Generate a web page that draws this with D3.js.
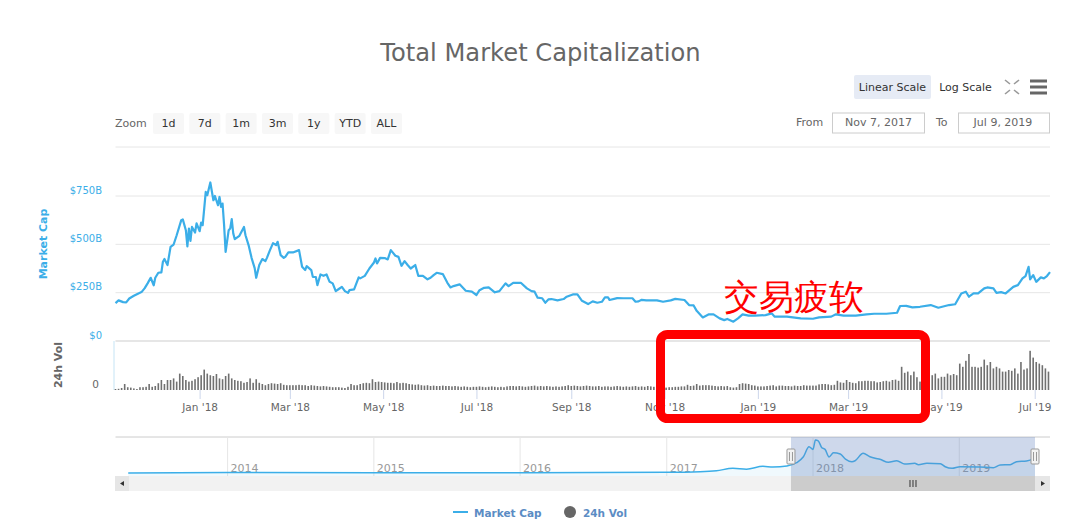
<!DOCTYPE html>
<html>
<head>
<meta charset="utf-8">
<script src="https://cdn.jsdelivr.net/npm/d3@7"></script>
<style>
  html, body { margin: 0; padding: 0; background: #fff; }
  svg { display: block; }
  text { font-family: "DejaVu Sans", sans-serif; }
  .domain { display: none; }
</style>
</head>
<body>
<svg id="plot" width="1080" height="530"></svg>
<script>
// Market cap ($B). Days are counted from the first date.
const startDate = new Date(2017, 10, 7);
const capDays = [0,2,5,7,9,12,15,17,19,21,23,25,26,28,30,31,32,34,36,38,40,43,44,46,47,48,49,50,52,53,55,56,57,58,59,60,62,64,65,67,68,69,70,71,72,74,75,76,77,78,81,84,85,87,89,91,92,94,96,98,99,101,103,105,106,108,110,111,113,116,120,122,124,125,128,129,131,132,134,136,138,140,142,144,146,148,150,152,153,156,159,160,163,166,169,170,171,173,176,178,180,183,185,187,189,191,193,196,198,201,204,206,208,210,214,217,219,221,225,229,233,236,238,241,244,248,251,255,257,260,265,269,272,274,276,279,281,283,285,289,293,295,299,302,305,309,312,315,318,320,322,323,328,332,338,340,342,344,347,354,358,363,366,372,375,378,380,384,388,391,395,398,400,404,407,410,414,418,425,429,431,439,448,456,460,468,471,476,484,491,496,504,511,513,517,521,526,533,538,545,549,553,556,558,561,564,568,570,574,576,579,582,587,590,593,595,597,598,600,602,605,607,609,611];
const capValues = [196,210,201,200,220,234,246,253,272,298,327,288,327,353,355,410,424,393,487,499,547,625,629,573,489,582,518,590,561,608,568,613,599,685,771,754,820,728,750,702,745,694,711,599,461,573,582,630,556,527,544,590,547,496,429,377,327,393,424,413,430,470,506,496,513,444,430,435,458,458,470,384,367,387,367,332,331,289,344,337,344,306,298,258,269,280,258,249,263,267,329,324,337,375,406,427,401,430,429,422,470,441,435,389,413,393,375,393,337,337,319,327,341,353,346,301,277,284,293,260,255,238,263,275,277,252,258,298,284,301,301,272,258,255,224,221,198,215,217,210,217,229,241,241,208,191,205,198,203,226,226,212,222,221,221,203,205,213,210,210,203,210,218,212,186,184,156,122,138,138,117,108,114,100,117,138,131,131,134,143,126,126,117,115,122,126,138,131,131,138,141,141,146,181,182,174,177,186,172,186,190,246,255,229,246,246,272,277,272,249,253,246,280,289,324,336,384,319,341,306,329,324,336,356];

// 24h volume ($B), one bar every two days
const volValues = [2.5,3,5,15,7,6,4,2.5,7,7,8,15,8,10,17,25,15,25,25,29,21,41,35,25,21,23,27,32,37,51,41,37,35,40,29,27,35,41,29,25,23,22,18,20,29,18,27,18,15,12,15,17,16,15,17,13,12,12,12,12,13,12,12,10,12,11,10,9,10,9,8,7,7,7,6,5,8,15,12,12,15,17,18,17,27,20,21,20,19,18,18,17,20,17,18,17,
  15,14,13,14,12,11,12,10,11,10,10,11,10,10,9,10,9,8,9,8,7,8,8,9,8,7,8,9,8,7,8,7,9,10,10,9,10,9,8,9,10,11,9,10,9,10,9,8,9,8,9,10,12,10,11,10,9,10,11,10,9,9,10,8,9,9,8,9,10,9,8,9,8,9,10,8,9,8,10,9,8,7,
  7,7,6,7,7,8,8,9,9,13,10,11,15,11,12,12,12,11,10,9,10,9,10,7,6,7,15,17,16,15,12,11,9,9,9,10,11,12,9,11,11,10,10,9,11,10,10,12,11,11,11,11,14,15,15,14,12,13,23,19,18,25,20,18,17,22,22,23,23,22,22,19,20,22,23,21,25,26,23,58,
  43,46,37,46,32,21,30,32,35,37,41,29,33,33,41,37,40,37,66,58,73,90,58,58,56,58,76,62,70,54,58,54,46,46,50,48,54,41,70,51,54,98,81,70,66,62,54,46];

// Overview strip under the chart
const navDates = ["2013-04-28","2014-01-01","2015-01-01","2016-01-01","2017-01-01","2017-03-25","2017-05-05","2017-06-15","2017-07-19","2017-08-29","2017-09-23","2017-10-28","2017-11-21","2017-12-08","2017-12-22","2018-01-01","2018-01-07","2018-01-14","2018-01-23","2018-01-31","2018-02-10","2018-02-21","2018-03-10","2018-03-23","2018-04-08","2018-04-16","2018-05-06","2018-05-23","2018-06-05","2018-06-17","2018-07-08","2018-07-29","2018-08-18","2018-09-12","2018-09-21","2018-10-12","2018-11-15","2018-11-27","2018-12-14","2019-01-03","2019-02-21","2019-03-27","2019-04-13","2019-05-08","2019-05-24","2019-06-18","2019-07-09"];
const navValues = [2,12,5,7,17,32,57,115,92,165,149,175,255,404,652,587,820,800,627,587,397,503,471,347,280,305,489,404,364,340,265,305,223,240,206,240,230,156,116,156,149,131,198,206,280,298,364];
const navYears = [2014,2015,2016,2017,2018,2019];

const capTicks = [0,250,500,750];
const monthTicks = [[2018,0],[2018,2],[2018,4],[2018,6],[2018,8],[2018,10],[2019,0],[2019,2],[2019,4],[2019,6]];
const zoomButtons = ["1d","7d","1m","3m","1y","YTD","ALL"];

const blue = "#3baee8", grid = "#e6e6e6", gray = "#666";
const svg = d3.select("#plot");
const left = 115.5, right = 1050;

const x = d3.scaleTime()
  .domain([startDate, d3.timeDay.offset(startDate, 611)])
  .range([left, right]);
const yCap = d3.scaleLinear().domain([0, 750]).range([341, 196]);
const yVol = d3.scaleLinear().domain([0, 122.5]).range([390, 341]);
const navX = d3.scaleTime()
  .domain([new Date(2014, 0, 1), new Date(2019, 6, 9)])
  .range([227.6, 1035]);
const navY = d3.scaleLinear().domain([0, 820]).range([473, 440]);

const dayToDate = d => d3.timeDay.offset(startDate, d);

svg.append("text").attr("x", 540.5).attr("y", 61).attr("text-anchor", "middle")
  .attr("font-size", 24.2).attr("fill", gray).text("Total Market Capitalization");

// Range selector
svg.append("text").attr("x", 115).attr("y", 127).attr("font-size", 11).attr("fill", gray).text("Zoom");
const btnX = d3.scalePoint().domain(zoomButtons).range([153, 371]);
const btn = svg.selectAll(".btn").data(zoomButtons).enter().append("g")
  .attr("transform", d => `translate(${btnX(d)}, 113)`);
btn.append("rect").attr("width", 31).attr("height", 21).attr("rx", 2).attr("fill", "#f7f7f7");
btn.append("text").attr("x", 15.5).attr("y", 14).attr("text-anchor", "middle")
  .attr("font-size", 11).attr("fill", "#333").text(d => d);

// Scale switch and menu icons
svg.append("rect").attr("x", 854).attr("y", 75).attr("width", 77).attr("height", 24).attr("rx", 2).attr("fill", "#e6ebf5");
svg.append("text").attr("x", 892.5).attr("y", 91).attr("text-anchor", "middle").attr("font-size", 11).attr("fill", "#333").text("Linear Scale");
svg.append("text").attr("x", 965.5).attr("y", 91).attr("text-anchor", "middle").attr("font-size", 11).attr("fill", "#333").text("Log Scale");
[[1005,80,1,1],[1019,80,-1,1],[1005,94,1,-1],[1019,94,-1,-1]].forEach(c => {
  svg.append("path")
    .attr("d", `M${c[0]},${c[1]}l${c[2]*5},${c[3]*4}`)
    .attr("stroke", "#999").attr("stroke-width", 1.6).attr("fill", "none");
});
[81, 87, 93].forEach(y => {
  svg.append("line").attr("x1", 1030).attr("x2", 1047).attr("y1", y).attr("y2", y)
    .attr("stroke", gray).attr("stroke-width", 3);
});

// From / To boxes
svg.append("text").attr("x", 796).attr("y", 126).attr("font-size", 11).attr("fill", gray).text("From");
svg.append("rect").attr("x", 832.5).attr("y", 113).attr("width", 92).attr("height", 20).attr("fill", "none").attr("stroke", "#ccc");
svg.append("text").attr("x", 878.5).attr("y", 126).attr("text-anchor", "middle").attr("font-size", 11).attr("fill", gray).text("Nov 7, 2017");
svg.append("text").attr("x", 936).attr("y", 126).attr("font-size", 11).attr("fill", gray).text("To");
svg.append("rect").attr("x", 958.5).attr("y", 113).attr("width", 91).attr("height", 20).attr("fill", "none").attr("stroke", "#ccc");
svg.append("text").attr("x", 1003).attr("y", 126).attr("text-anchor", "middle").attr("font-size", 11).attr("fill", gray).text("Jul 9, 2019");

// Grid lines
svg.append("line").attr("x1", left).attr("x2", right).attr("y1", 147).attr("y2", 147).attr("stroke", grid);
svg.selectAll(".grid").data(capTicks.slice(1)).enter().append("line")
  .attr("x1", left).attr("x2", right)
  .attr("y1", d => yCap(d)).attr("y2", d => yCap(d))
  .attr("stroke", grid);
svg.append("line").attr("x1", left).attr("x2", right).attr("y1", 341).attr("y2", 341).attr("stroke", grid).attr("stroke-width", 2);
svg.append("line").attr("x1", 114).attr("x2", 114).attr("y1", 341).attr("y2", 390).attr("stroke", "#c5e4f5");

// Y axes
const capAxis = svg.append("g").attr("transform", "translate(102, -6)")
  .call(d3.axisLeft(yCap).tickValues(capTicks).tickSize(0).tickPadding(0).tickFormat(d => `$${d}${d ? "B" : ""}`));
capAxis.selectAll("text").attr("font-size", 10).attr("font-family", '"DejaVu Sans", sans-serif').attr("fill", blue);
const volAxis = svg.append("g").attr("transform", "translate(99, -6)")
  .call(d3.axisLeft(yVol).tickValues([0]).tickSize(0).tickPadding(0));
volAxis.selectAll("text").attr("font-size", 10.5).attr("font-family", '"DejaVu Sans", sans-serif').attr("fill", gray);

svg.append("text").attr("transform", "translate(47, 244) rotate(-90)").attr("text-anchor", "middle")
  .attr("font-size", 11).attr("font-weight", "bold").attr("fill", blue).text("Market Cap");
svg.append("text").attr("transform", "translate(62, 365) rotate(-90)").attr("text-anchor", "middle")
  .attr("font-size", 11).attr("font-weight", "bold").attr("fill", gray).text("24h Vol");

// Volume bars
svg.selectAll(".bar").data(volValues).enter().append("rect")
  .attr("class", "bar")
  .attr("x", (d, i) => x(dayToDate(i * 2)) - 0.8)
  .attr("width", 1.6)
  .attr("y", d => yVol(d))
  .attr("height", d => yVol(0) - yVol(d))
  .attr("fill", "#707070");

// Date axis
const dateAxis = svg.append("g").attr("transform", "translate(0, 390)")
  .call(d3.axisBottom(x)
    .tickValues(monthTicks.map(m => new Date(m[0], m[1], 1)))
    .tickSize(9).tickPadding(5)
    .tickFormat(d3.timeFormat("%b '%y")));
dateAxis.selectAll("line").attr("stroke", "#ccd6eb");
dateAxis.selectAll("text").attr("font-size", 10.5).attr("font-family", '"DejaVu Sans", sans-serif').attr("fill", gray);

// Market cap line
const capLine = d3.line().x((d, i) => x(dayToDate(capDays[i]))).y(d => yCap(d));
svg.append("path").attr("d", capLine(capValues)).attr("fill", "none")
  .attr("stroke", blue).attr("stroke-width", 2.2).attr("stroke-linejoin", "round");

// Overview strip
svg.append("line").attr("x1", left).attr("x2", right).attr("y1", 437).attr("y2", 437).attr("stroke", "#ccc");
navYears.forEach(y => {
  const px = navX(new Date(y, 0, 1));
  svg.append("line").attr("x1", px).attr("x2", px).attr("y1", 437).attr("y2", 476).attr("stroke", grid);
  svg.append("text").attr("x", px + 3).attr("y", 472).attr("font-size", 11).attr("fill", "#999").text(y);
});
const navParsed = navDates.map(d3.timeParse("%Y-%m-%d"));
const navArea = d3.area().x((d, i) => navX(navParsed[i])).y0(476).y1(d => navY(d));
const navLine = d3.line().x((d, i) => navX(navParsed[i])).y(d => navY(d)).curve(d3.curveMonotoneX);
svg.append("path").attr("d", navArea(navValues)).attr("fill", blue).attr("fill-opacity", 0.08);
svg.append("path").attr("d", navLine(navValues)).attr("fill", "none").attr("stroke", blue).attr("stroke-width", 1.5);

const selLeft = navX(startDate), selRight = navX(new Date(2019, 6, 9));
svg.append("rect").attr("x", selLeft).attr("y", 437).attr("width", selRight - selLeft).attr("height", 39)
  .attr("fill", "#6685c2").attr("fill-opacity", 0.32);

// Scrollbar
svg.append("rect").attr("x", 115).attr("y", 476).attr("width", 935).attr("height", 15).attr("fill", "#f2f2f2");
svg.append("rect").attr("x", selLeft).attr("y", 476).attr("width", selRight - selLeft).attr("height", 15).attr("fill", "#ccc");
svg.append("rect").attr("x", 115).attr("y", 476).attr("width", 14).attr("height", 15).attr("fill", "#e6e6e6");
svg.append("rect").attr("x", selRight).attr("y", 476).attr("width", 15).attr("height", 15).attr("fill", "#e6e6e6");
svg.append("path").attr("d", "M124,481l-4,2.5l4,2.5z").attr("fill", "#333");
svg.append("path").attr("d", "M1041,481l4,2.5l-4,2.5z").attr("fill", "#333");
[-3, 0, 3].forEach(o => {
  svg.append("line").attr("x1", (selLeft + selRight) / 2 + o).attr("x2", (selLeft + selRight) / 2 + o)
    .attr("y1", 480).attr("y2", 487).attr("stroke", "#333");
});
[selLeft, selRight].forEach(px => {
  svg.append("rect").attr("x", px - 4).attr("y", 449).attr("width", 8).attr("height", 15).attr("rx", 1)
    .attr("fill", "#f2f2f2").attr("stroke", "#999");
  [-1.5, 1.5].forEach(o => {
    svg.append("line").attr("x1", px + o).attr("x2", px + o).attr("y1", 452).attr("y2", 461).attr("stroke", "#999");
  });
});

// Legend
svg.append("line").attr("x1", 453).attr("x2", 468).attr("y1", 512).attr("y2", 512).attr("stroke", blue).attr("stroke-width", 2);
svg.append("text").attr("x", 474).attr("y", 517).attr("font-size", 10.5).attr("font-weight", "bold").attr("fill", "#5b8cc4").text("Market Cap");
svg.append("circle").attr("cx", 570).attr("cy", 512).attr("r", 6).attr("fill", gray);
svg.append("text").attr("x", 583).attr("y", 517).attr("font-size", 10.5).attr("font-weight", "bold").attr("fill", "#5b8cc4").text("24h Vol");

// Red annotation
svg.append("rect").attr("x", 660.5).attr("y", 334.5).attr("width", 265).attr("height", 84).attr("rx", 7)
  .attr("fill", "none").attr("stroke", "#f00").attr("stroke-width", 9);
svg.append("text").attr("x", 724).attr("y", 309).attr("font-size", 35)
  .attr("font-family", '"Noto Sans CJK SC", sans-serif').attr("fill", "#f00").text("交易疲软");
</script>
</body>
</html>
